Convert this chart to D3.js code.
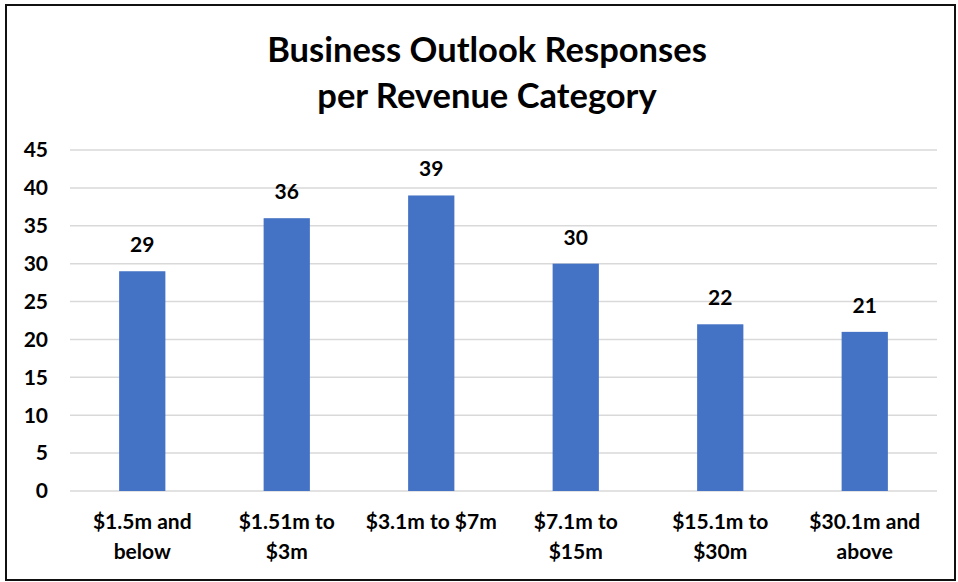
<!DOCTYPE html>
<html>
<head>
<meta charset="utf-8">
<script src="https://cdn.jsdelivr.net/npm/d3@7"></script>
<style>
  body { margin: 0; background: #fff; }
  text { font-family: Lato, "Open Sans", sans-serif; font-weight: bold; fill: #000; }
</style>
</head>
<body>
<svg width="958" height="582"></svg>
<script>
// data
var categories = [["$1.5m and", "below"], ["$1.51m to", "$3m"], ["$3.1m to $7m"],
                  ["$7.1m to", "$15m"], ["$15.1m to", "$30m"], ["$30.1m and", "above"]];
var responses = [29, 36, 39, 30, 22, 21];
var yTicks = [0, 5, 10, 15, 20, 25, 30, 35, 40, 45];
var titleLines = ["Business Outlook Responses", "per Revenue Category"];

var svg = d3.select("svg"),
  width = +svg.attr("width"),
  height = +svg.attr("height");

// outer frame
svg.append("rect")
  .attr("x", 6).attr("y", 5)
  .attr("width", 949).attr("height", 575)
  .attr("fill", "none")
  .attr("stroke", "#111")
  .attr("stroke-width", 2);

var plotLeft = 70, plotRight = 937, plotTop = 150, plotBottom = 491;

var x = d3.scaleBand()
  .domain(d3.range(categories.length))
  .range([plotLeft, plotRight])
  .paddingInner(0.68)
  .paddingOuter(0.34);

var y = d3.scaleLinear()
  .domain([0, 45])
  .range([plotBottom, plotTop]);

// title
svg.append("g").selectAll("text")
  .data(titleLines)
  .enter().append("text")
    .attr("x", 487)
    .attr("y", function(d, i) { return 62 + i * 46; })
    .attr("text-anchor", "middle")
    .style("font-size", "34.5px")
    .text(function(d) { return d; });

// gridlines
svg.append("g").selectAll("line")
  .data(yTicks)
  .enter().append("line")
    .attr("x1", plotLeft).attr("x2", plotRight)
    .attr("y1", function(d) { return y(d); })
    .attr("y2", function(d) { return y(d); })
    .attr("stroke", "#d9d9d9")
    .attr("stroke-width", 1.5);

// y tick labels
svg.append("g").selectAll("text")
  .data(yTicks)
  .enter().append("text")
    .attr("x", 48)
    .attr("y", function(d) { return y(d); })
    .attr("dy", "0.35em")
    .attr("text-anchor", "end")
    .style("font-size", "21px")
    .text(function(d) { return d; });

// bars
svg.append("g").selectAll("rect")
  .data(responses)
  .enter().append("rect")
    .attr("x", function(d, i) { return x(i); })
    .attr("y", function(d) { return y(d); })
    .attr("width", x.bandwidth())
    .attr("height", function(d) { return y(0) - y(d); })
    .attr("fill", "#4472c4");

// value labels
svg.append("g").selectAll("text")
  .data(responses)
  .enter().append("text")
    .attr("x", function(d, i) { return x(i) + x.bandwidth() / 2; })
    .attr("y", function(d) { return y(d) - 19; })
    .attr("text-anchor", "middle")
    .style("font-size", "21px")
    .text(function(d) { return d; });

// category labels
var cat = svg.append("g").selectAll("text")
  .data(categories)
  .enter().append("text")
    .attr("x", function(d, i) { return x(i) + x.bandwidth() / 2; })
    .attr("y", 529)
    .attr("text-anchor", "middle")
    .style("font-size", "21px");

cat.selectAll("tspan")
  .data(function(d) { return d; })
  .enter().append("tspan")
    .attr("x", function() { return d3.select(this.parentNode).attr("x"); })
    .attr("dy", function(d, i) { return i ? 30 : 0; })
    .text(function(d) { return d; });
</script>
</body>
</html>
